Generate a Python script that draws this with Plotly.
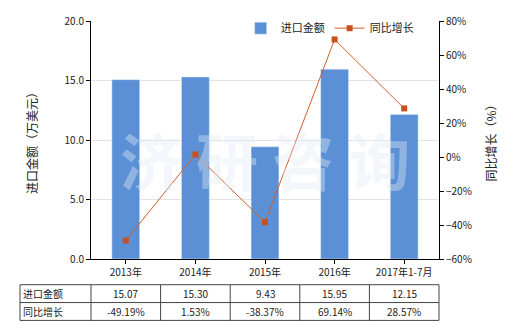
import plotly.graph_objects as go

categories = ["2013年", "2014年", "2015年", "2016年", "2017年1-7月"]
import_values = [15.07, 15.30, 9.43, 15.95, 12.15]
growth_values = [-49.19, 1.53, -38.37, 69.14, 28.57]
bar_name = "进口金额"
line_name = "同比增长"

FONT = "Noto Sans CJK SC"
fig = go.Figure()
fig.add_trace(go.Bar(x=categories, y=import_values, name=bar_name,
                     marker_color="#5B8FD6", width=0.4, yaxis="y"))
fig.add_trace(go.Scatter(x=categories, y=growth_values, name=line_name, yaxis="y2",
                         mode="lines+markers",
                         line=dict(color="#D0602A", width=1),
                         marker=dict(symbol="square", size=6, color="#C8501A")))

fig.update_layout(
    width=520, height=330,
    margin=dict(l=91, r=81, t=19, b=71),
    paper_bgcolor="white", plot_bgcolor="white",
    font=dict(family=FONT, size=10, color="#222"),
    showlegend=True,
    legend=dict(orientation="h", x=0.43, y=0.97, xanchor="left", yanchor="middle",
                bgcolor="rgba(0,0,0,0)", font=dict(size=11)),
    xaxis=dict(showline=True, linecolor="#000", ticks="outside", ticklen=4,
               tickcolor="#000", tickfont=dict(size=10)),
    yaxis=dict(range=[0, 20], dtick=5, tickformat=".1f", showline=True, linecolor="#000",
               ticks="outside", ticklen=4, tickcolor="#000", gridcolor="#e4e4e4",
               title=dict(text="进口金额（万美元）", font=dict(size=12), standoff=24),
               zeroline=False),
    yaxis2=dict(range=[-60, 80], dtick=20, overlaying="y", side="right", showgrid=False,
                ticksuffix="%", showline=True, linecolor="#000", ticks="outside",
                ticklen=4, tickcolor="#000", zeroline=False,
                title=dict(text="同比增长（%）", font=dict(size=12), standoff=16)),
    bargap=0.6,
)

# watermark
fig.add_annotation(text="<b>济 研 咨 询</b>", xref="paper", yref="paper", x=0.5, y=0.42,
                   showarrow=False, font=dict(size=62, color="rgba(225,235,245,0.4)", family=FONT))

# table below the chart
n = len(categories)
x_left = (20 - 91) / 348
rows_y = [-0.108, -0.183, -0.258]
line_col = "#444"
for yv in rows_y:
    fig.add_shape(type="line", xref="paper", yref="paper", x0=x_left, x1=1.0, y0=yv, y1=yv,
                  line=dict(color=line_col, width=1))
for xv in [x_left] + [i / n for i in range(n + 1)]:
    fig.add_shape(type="line", xref="paper", yref="paper", x0=xv, x1=xv,
                  y0=rows_y[0], y1=rows_y[-1], line=dict(color=line_col, width=1))
row_labels = [bar_name, line_name]
row_texts = [[f"{v:.2f}" for v in import_values], [f"{v:.2f}%" for v in growth_values]]
for r in range(2):
    yc = (rows_y[r] + rows_y[r + 1]) / 2
    fig.add_annotation(text=row_labels[r], xref="paper", yref="paper", x=x_left + 0.004, y=yc,
                       xanchor="left", yanchor="middle", showarrow=False, font=dict(size=10))
    for i in range(n):
        fig.add_annotation(text=row_texts[r][i], xref="paper", yref="paper", x=(i + 0.5) / n,
                           y=yc, xanchor="center", yanchor="middle", showarrow=False,
                           font=dict(size=10))

fig.write_html("out.html")
